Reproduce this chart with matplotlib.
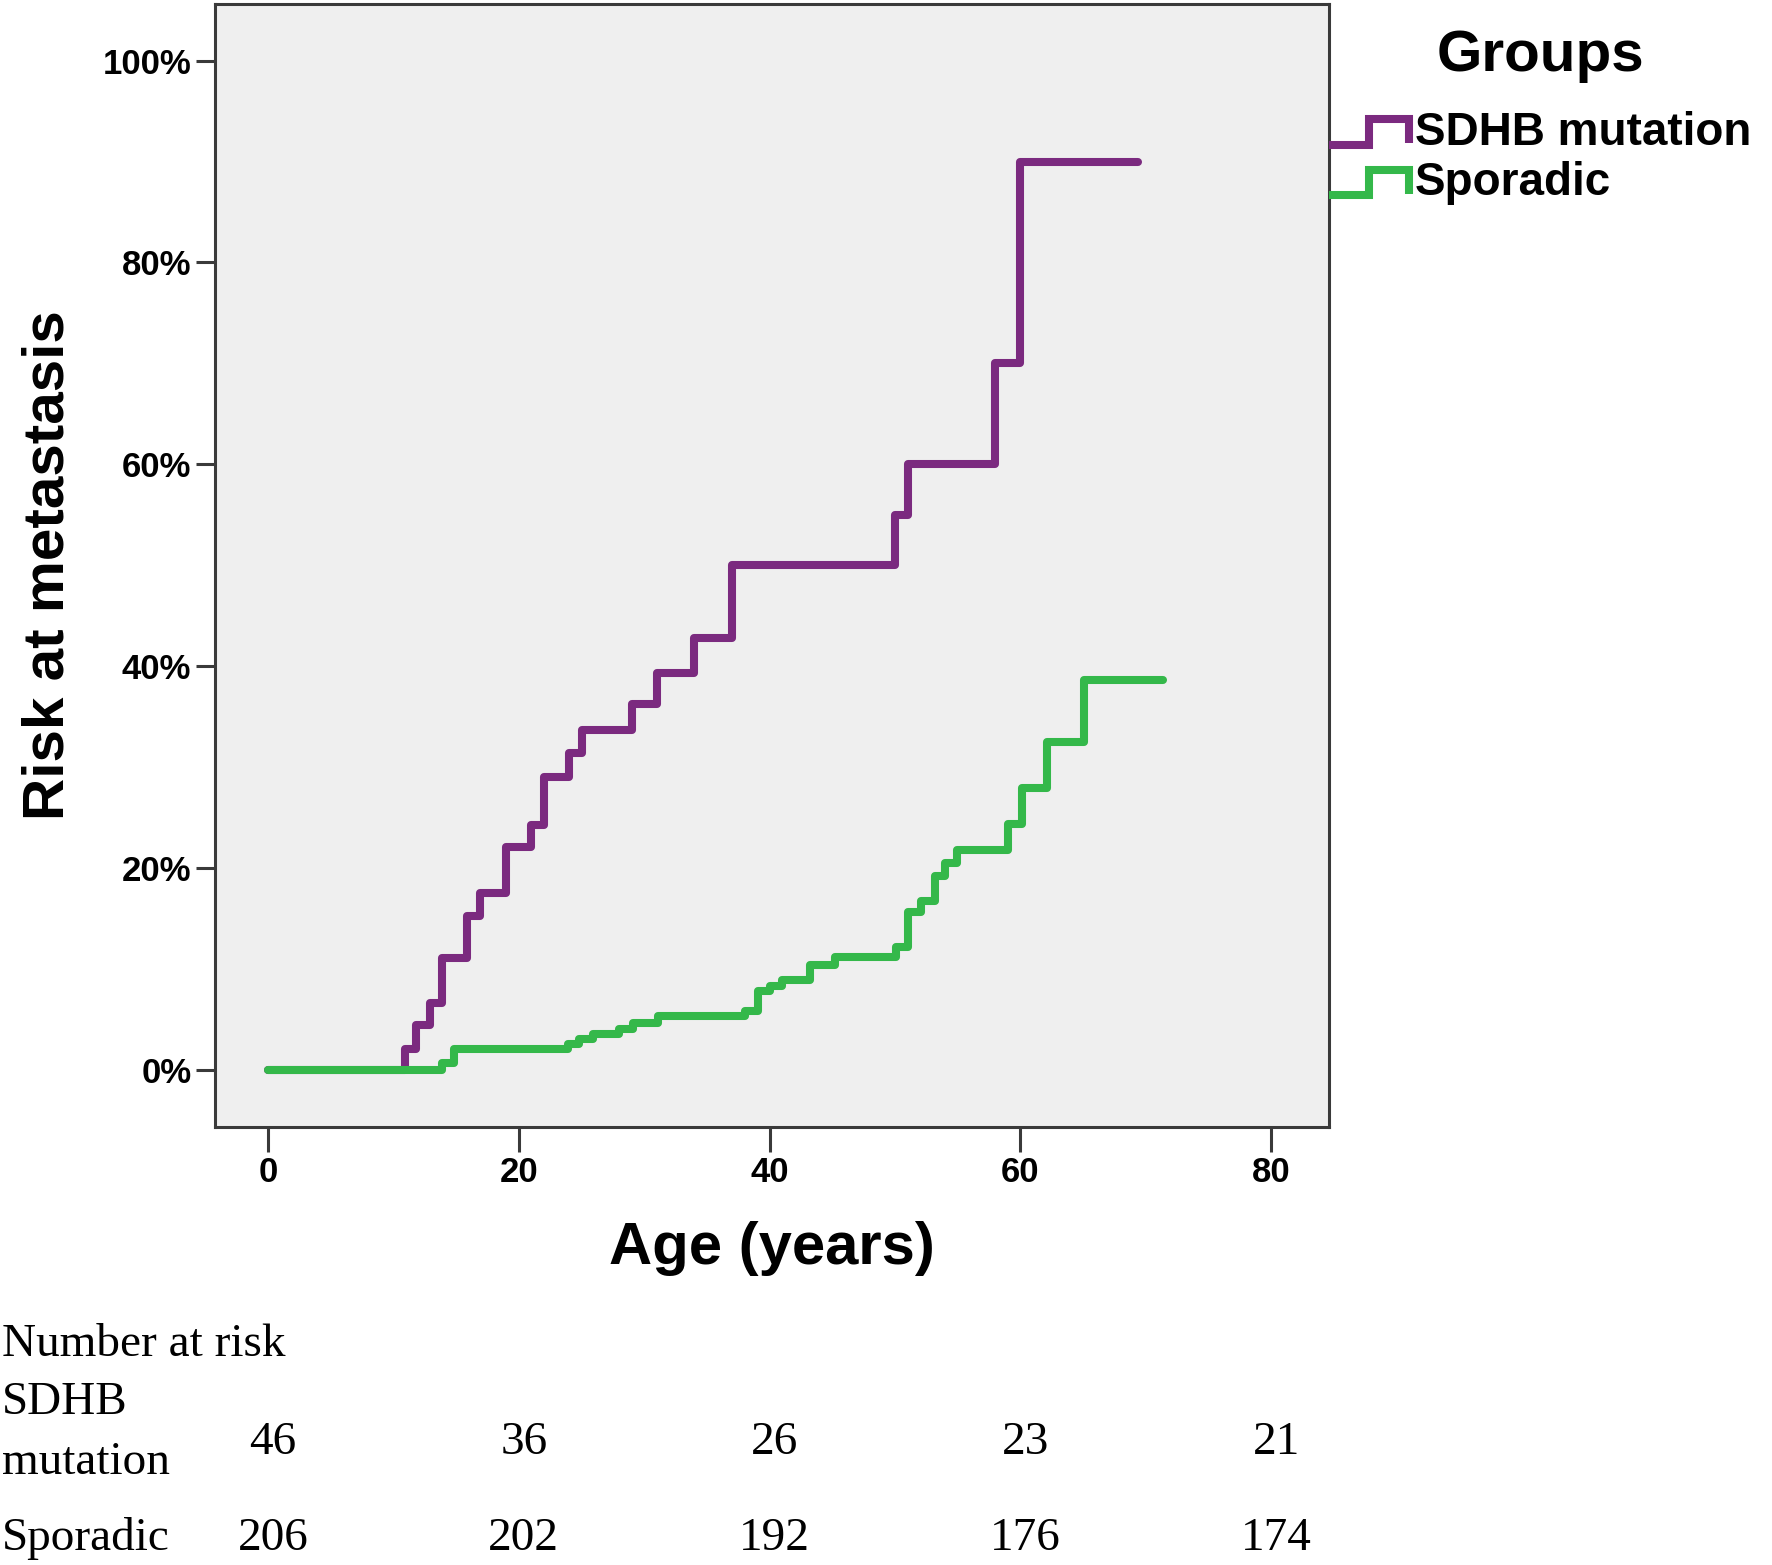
import matplotlib
matplotlib.use("Agg")
import matplotlib.pyplot as plt
from matplotlib.legend_handler import HandlerLine2D
from matplotlib.lines import Line2D
from matplotlib.ticker import FuncFormatter
import matplotlib.transforms as mtransforms

# ---- data ----
sdhb_age = [0, 10.9, 11.8, 12.9, 13.9, 15.9, 16.9, 19.0, 21.0, 22.0, 24.0, 25.0,
            29.0, 31.0, 34.0, 37.0, 50.0, 51.0, 58.0, 60.0, 69.4]
sdhb_risk = [0, 2.1, 4.5, 6.6, 11.1, 15.3, 17.5, 22.1, 24.3, 29.0, 31.4, 33.7,
             36.3, 39.3, 42.8, 50.0, 55.0, 60.0, 70.0, 90.0, 90.0]

spor_age = [0, 13.9, 14.8, 23.9, 24.8, 25.9, 28.0, 29.1, 31.1, 38.0, 39.1, 40.0,
            41.0, 43.2, 45.2, 50.1, 51.0, 52.1, 53.2, 54.0, 54.9, 59.0, 60.1,
            62.1, 65.1, 71.4]
spor_risk = [0, 0.7, 2.1, 2.6, 3.1, 3.6, 4.1, 4.6, 5.3, 5.8, 7.8, 8.3,
             8.9, 10.4, 11.2, 12.2, 15.6, 16.7, 19.2, 20.5, 21.8, 24.4, 27.9,
             32.5, 38.6, 38.6]

group_names = ["SDHB mutation", "Sporadic"]
x_ticks = [0, 20, 40, 60, 80]
y_ticks = [0, 20, 40, 60, 80, 100]
risk_ages = [0, 20, 40, 60, 80]
sdhb_at_risk = [46, 36, 26, 23, 21]
spor_at_risk = [206, 202, 192, 176, 174]

PURPLE = "#7B2A7F"
GREEN = "#34B84A"
TICKFONT = ["Liberation Sans Narrow", "Liberation Sans", "DejaVu Sans"]
SANS = ["Liberation Sans", "DejaVu Sans"]
SERIF = ["Liberation Serif", "DejaVu Serif"]
LW = 5.8

fig = plt.figure(figsize=(17.72, 15.65), dpi=100)
ax = fig.add_axes([0.1213, 0.2799, 0.6287, 0.7175])
ax.set_facecolor("#EFEFEF")

l1, = ax.step(sdhb_age, sdhb_risk, where="post", color=PURPLE, lw=LW,
              solid_capstyle="round", solid_joinstyle="round", label=group_names[0], zorder=2)
l2, = ax.step(spor_age, spor_risk, where="post", color=GREEN, lw=LW,
              solid_capstyle="round", solid_joinstyle="round", label=group_names[1], zorder=3)

ax.set_xlim(-4.23, 84.6)
ax.set_ylim(-5.65, 105.6)
ax.set_xticks(x_ticks)
ax.set_yticks(y_ticks)
ax.yaxis.set_major_formatter(FuncFormatter(lambda v, p: f"{int(v)}%"))

for s in ax.spines.values():
    s.set_color("#3A3A3A")
    s.set_linewidth(2.2)

ax.tick_params(axis="both", direction="out", width=2.2, color="#3A3A3A",
               labelsize=25, pad=4)
ax.tick_params(axis="x", length=18, pad=3)
ax.tick_params(axis="y", length=14, pad=3)
for lab in ax.get_xticklabels() + ax.get_yticklabels():
    lab.set_family(TICKFONT)
    lab.set_fontweight("bold")

ax.set_ylabel("Risk at metastasis", fontsize=42, fontweight="bold", family=SANS)
ax.yaxis.set_label_coords(-0.125, 0.5)
ax.set_xlabel("Age (years)", fontsize=43, fontweight="bold", family=SANS)
ax.xaxis.set_label_coords(0.5, -0.084)


class StepHandler(HandlerLine2D):
    def create_artists(self, legend, orig_handle, xdescent, ydescent, width, height,
                       fontsize, trans):
        x0 = -xdescent
        xs = [x0, x0 + width * 0.5, x0 + width * 0.5, x0 + width, x0 + width]
        ys = [height * 0.0, height * 0.0, height * 0.8, height * 0.8, height * 0.05]
        ln = Line2D(xs, ys, color=orig_handle.get_color(),
                    lw=orig_handle.get_linewidth(), solid_joinstyle="miter",
                    solid_capstyle="butt")
        ln.set_transform(trans)
        return [ln]


leg = ax.legend(handles=[l1, l2], loc="upper left", bbox_to_anchor=(1.0, 0.978),
                frameon=False, title="Groups", handler_map={Line2D: StepHandler()},
                handlelength=1.75, handletextpad=0.12, borderaxespad=0.0, borderpad=0.0,
                labelspacing=0.15,
                prop={"family": SANS, "weight": "bold", "size": 33},
                title_fontproperties={"family": SANS, "weight": "bold", "size": 42})
leg._legend_box.sep = 20

# ---- number at risk table ----
TS = 34
fig.text(0.001, 1 - 1345 / 1565, "Number at risk", family=SERIF, fontsize=TS,
         ha="left", va="center")
fig.text(0.001, 1 - 1403 / 1565, "SDHB", family=SERIF, fontsize=TS, ha="left", va="center")
fig.text(0.001, 1 - 1463 / 1565, "mutation", family=SERIF, fontsize=TS, ha="left", va="center")
fig.text(0.001, 1 - 1539 / 1565, "Sporadic", family=SERIF, fontsize=TS, ha="left", va="center")

blend = mtransforms.blended_transform_factory(ax.transData, fig.transFigure)
for a, n1, n2 in zip(risk_ages, sdhb_at_risk, spor_at_risk):
    fig.text(a + 0.4, 1 - 1443 / 1565, str(n1), family=SERIF, fontsize=TS,
             ha="center", va="center", transform=blend)
    fig.text(a + 0.4, 1 - 1539 / 1565, str(n2), family=SERIF, fontsize=TS,
             ha="center", va="center", transform=blend)

fig.savefig("out.png", dpi=100, facecolor="white")
